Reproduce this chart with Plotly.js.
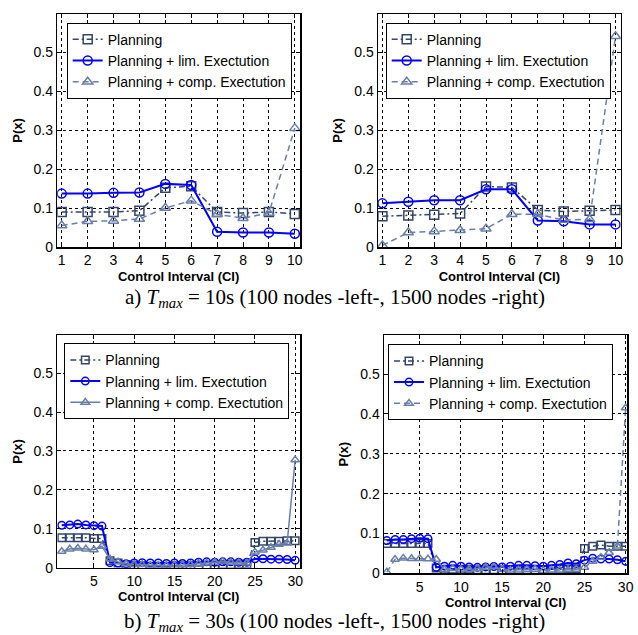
<!DOCTYPE html>
<html>
<head>
<meta charset="utf-8">
<script src="https://cdn.plot.ly/plotly-3.0.1.min.js"></script>
<style>html,body{margin:0;padding:0;background:#fff}#chart{width:638px;height:635px}</style>
</head>
<body>
<div id="chart"></div>
<script>
// ---- data ----
const ci10 = [1,2,3,4,5,6,7,8,9,10];
const ci30 = [1,2,3,4,5,6,7,8,9,10,11,12,13,14,15,16,17,18,19,20,21,22,23,24,25,26,27,28,29,30];

const seriesNames = ["Planning", "Planning + lim. Exectution", "Planning + comp. Exectution"];

// a) Tmax = 10s, 100 nodes
const planA100 = [0.090,0.090,0.090,0.093,0.152,0.156,0.090,0.087,0.090,0.085];
const limA100  = [0.137,0.137,0.139,0.140,0.162,0.159,0.039,0.037,0.037,0.034];
const compA100 = [0.055,0.066,0.067,0.072,0.100,0.119,0.084,0.074,0.087,0.305];
// a) Tmax = 10s, 1500 nodes
const planA1500 = [0.079,0.081,0.083,0.086,0.155,0.153,0.095,0.091,0.093,0.095];
const limA1500  = [0.112,0.116,0.120,0.120,0.148,0.148,0.068,0.066,0.058,0.058];
const compA1500 = [0.004,0.037,0.040,0.043,0.047,0.084,0.084,0.069,0.071,0.541];
// b) Tmax = 30s, 100 nodes
const planB100 = [0.077,0.077,0.077,0.077,0.075,0.075,0.018,0.012,0.008,0.006,0.005,0.004,0.004,0.004,0.005,0.005,0.005,0.006,0.006,0.007,0.008,0.008,0.009,0.009,0.065,0.068,0.068,0.068,0.069,0.069];
const limB100  = [0.109,0.110,0.112,0.110,0.108,0.107,0.013,0.012,0.010,0.012,0.013,0.012,0.012,0.011,0.012,0.011,0.012,0.014,0.015,0.014,0.015,0.015,0.014,0.014,0.023,0.023,0.022,0.022,0.021,0.019];
const compB100 = [0.042,0.048,0.050,0.048,0.046,0.055,0.022,0.015,0.010,0.008,0.008,0.006,0.006,0.006,0.007,0.007,0.008,0.010,0.012,0.014,0.016,0.014,0.013,0.012,0.040,0.045,0.052,0.060,0.063,0.277];
// b) Tmax = 30s, 1500 nodes
const planB1500 = [0.075,0.075,0.075,0.075,0.075,0.075,0.013,0.010,0.010,0.010,0.010,0.009,0.009,0.009,0.009,0.009,0.009,0.009,0.009,0.009,0.010,0.010,0.011,0.011,0.062,0.068,0.071,0.068,0.068,0.068];
const limB1500  = [0.082,0.085,0.085,0.087,0.088,0.087,0.015,0.018,0.020,0.018,0.016,0.015,0.016,0.017,0.016,0.018,0.020,0.020,0.019,0.018,0.020,0.022,0.026,0.024,0.033,0.038,0.036,0.036,0.034,0.030];
const compB1500 = [0.003,0.035,0.038,0.037,0.037,0.036,0.035,0.010,0.012,0.010,0.010,0.012,0.015,0.016,0.010,0.008,0.008,0.009,0.010,0.007,0.008,0.008,0.009,0.010,0.015,0.030,0.040,0.052,0.068,0.415];

const xTitle = "Control Interval (CI)";
const yTitle = "P(x)";
const captionA = "a) <i>T</i><sub><i>max</i></sub> = 10s (100 nodes -left-, 1500 nodes -right)";
const captionB = "b) <i>T</i><sub><i>max</i></sub> = 30s (100 nodes -left-, 1500 nodes -right)";

// ---- styles ----
const C_PLAN = "#34466a";
const C_LIM = "#0000ff";
const C_COMP = "#6a7fa8";
const FONT = "Arial, 'Liberation Sans', sans-serif";

function mk(x, y, kind, ax, leg, msize, compSolid) {
  const s = {
    plan: {color: C_PLAN, dash: "6px,3px,2px,3px", sym: "square-open", w: 1.5},
    lim:  {color: C_LIM,  dash: "solid", sym: "circle-open", w: 2},
    comp: {color: C_COMP, dash: compSolid ? "solid" : "6px,4px", sym: "triangle-up-open", w: 1.5}
  }[kind];
  const name = {plan: seriesNames[0], lim: seriesNames[1], comp: seriesNames[2]}[kind];
  return {
    x: x, y: y, type: "scatter", mode: "lines+markers", name: name,
    xaxis: "x" + ax, yaxis: "y" + ax, legend: leg,
    line: {color: s.color, width: s.w, dash: s.dash},
    marker: {symbol: s.sym, size: msize, color: s.color, line: {color: s.color, width: 1.5}}
  };
}

const data = [
  mk(ci10, planA100, "plan", "", "legend", 9), mk(ci10, limA100, "lim", "", "legend", 9), mk(ci10, compA100, "comp", "", "legend", 9),
  mk(ci10, planA1500, "plan", "2", "legend2", 9), mk(ci10, limA1500, "lim", "2", "legend2", 9), mk(ci10, compA1500, "comp", "2", "legend2", 9),
  mk(ci30, planB100, "plan", "3", "legend3", 7.5), mk(ci30, limB100, "lim", "3", "legend3", 7.5), mk(ci30, compB100, "comp", "3", "legend3", 7.5, true),
  mk(ci30, planB1500, "plan", "4", "legend4", 7.5), mk(ci30, limB1500, "lim", "4", "legend4", 7.5), mk(ci30, compB1500, "comp", "4", "legend4", 7.5)
];

const W = 638, H = 635;
function xa(left, right, range, dtick, tick0, anchor) {
  return {
    domain: [left / W, right / W], range: range, anchor: anchor,
    dtick: dtick, tick0: tick0, ticks: "inside", ticklen: 4, tickwidth: 1, tickcolor: "#000",
    showline: true, linecolor: "#000", linewidth: 1.5, mirror: "ticks",
    showgrid: true, gridcolor: "#000", griddash: "dot", gridwidth: 1, zeroline: false,
    tickfont: {family: FONT, size: 14, color: "#000"},
    title: {text: xTitle, font: {family: FONT, size: 13, color: "#000", weight: "bold"}, standoff: 4},
    automargin: false
  };
}
function ya(top, bottom, range, anchor) {
  return {
    domain: [1 - bottom / H, 1 - top / H], range: range, anchor: anchor,
    dtick: 0.1, tick0: 0, ticks: "inside", ticklen: 4, tickwidth: 1, tickcolor: "#000",
    showline: true, linecolor: "#000", linewidth: 1.5, mirror: "ticks",
    showgrid: true, gridcolor: "#000", griddash: "dot", gridwidth: 1, zeroline: false,
    tickfont: {family: FONT, size: 14, color: "#000"},
    title: {text: yTitle, font: {family: FONT, size: 13, color: "#000", weight: "bold"}, standoff: 8},
    automargin: false
  };
}
function leg(xpx, ypx) {
  return {
    x: xpx / W, y: 1 - ypx / H, xanchor: "left", yanchor: "top",
    bgcolor: "#fff", bordercolor: "#000", borderwidth: 1,
    font: {family: FONT, size: 14, color: "#000"}, tracegroupgap: 0, itemwidth: 30
  };
}

const layout = {
  width: W, height: H, autosize: false,
  margin: {l: 0, r: 0, t: 0, b: 0},
  paper_bgcolor: "#fff", plot_bgcolor: "#fff",
  showlegend: true,
  xaxis:  xa(57.3, 300, [0.83, 10.2], 1, 1, "y"),
  yaxis:  ya(14, 247, [0, 0.598], "x"),
  xaxis2: xa(378, 620.7, [0.83, 10.2], 1, 1, "y2"),
  yaxis2: ya(14, 247, [0, 0.598], "x2"),
  xaxis3: xa(57.3, 300, [0.45, 30.6], 5, 0, "y3"),
  yaxis3: ya(335, 567.7, [0, 0.598], "x3"),
  xaxis4: xa(384, 627.3, [0.66, 30.2], 5, 0, "y4"),
  yaxis4: ya(335, 573.3, [0, 0.598], "x4"),
  legend:  leg(66.7, 22.7),
  legend2: leg(385.7, 22.7),
  legend3: leg(64.3, 343.3),
  legend4: leg(388, 344.3),
  annotations: [
    {text: captionA, xref: "paper", yref: "paper", x: 334.5 / W, y: 1 - 298 / H, xanchor: "center", yanchor: "middle", showarrow: false,
     font: {family: "'Liberation Serif', 'Times New Roman', serif", size: 21, color: "#000"}},
    {text: captionB, xref: "paper", yref: "paper", x: 334.5 / W, y: 1 - 621.7 / H, xanchor: "center", yanchor: "middle", showarrow: false,
     font: {family: "'Liberation Serif', 'Times New Roman', serif", size: 21, color: "#000"}}
  ]
};

Plotly.newPlot("chart", data, layout, {displayModeBar: false, staticPlot: true});
</script>
</body>
</html>
